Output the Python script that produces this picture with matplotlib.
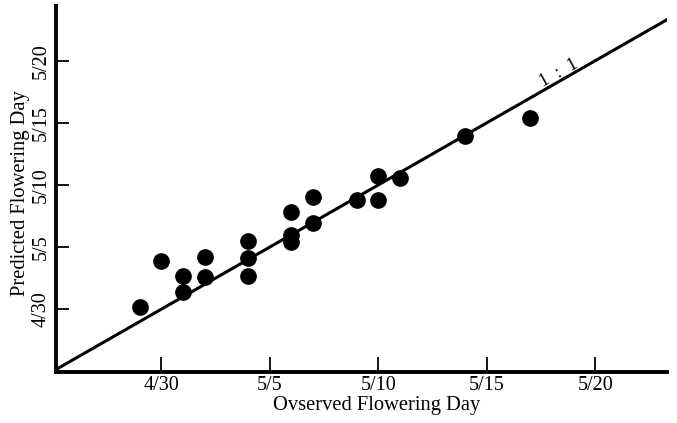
import matplotlib
matplotlib.use("Agg")
import matplotlib.pyplot as plt

# Days counted from 4/30 (0 = 4/30, 5 = 5/5, ...)
observed = [-1, 0, 1, 1, 2, 2, 4, 4, 4, 6, 6, 6, 7, 7, 9, 10, 10, 11, 14, 17]
predicted = [0.2, 3.9, 2.7, 1.4, 4.2, 2.6, 5.5, 4.1, 2.7, 7.8, 6.0, 5.4, 9.0, 6.9,
             8.8, 10.7, 8.8, 10.6, 13.9, 15.4]

tick_days = [0, 5, 10, 15, 20]
tick_labels = ["4/30", "5/5", "5/10", "5/15", "5/20"]

plt.rcParams["font.family"] = ["Liberation Serif", "DejaVu Serif"]

fig = plt.figure(figsize=(6.77, 4.23), dpi=100)
ax = fig.add_axes([0.0827, 0.1206, 0.9024, 0.8652])

ax.set_xlim(-4.85, 23.3)
ax.set_ylim(-5.05, 24.4)

# 1:1 line
ax.plot([-5.1, 24], [-5.1, 24], color="black", lw=2.2, solid_capstyle="butt", zorder=2)
ax.text(18.3, 19.0, "1  :  1", rotation=29, fontsize=13, ha="center", va="center")

ax.plot(observed, predicted, "o", color="black", markersize=11, zorder=3)

for side in ["top", "right"]:
    ax.spines[side].set_visible(False)
for side in ["left", "bottom"]:
    ax.spines[side].set_linewidth(2.8)

ax.set_xticks(tick_days)
ax.set_xticklabels(tick_labels, fontsize=14.5)
ax.set_yticks(tick_days)
ax.set_yticklabels(tick_labels, fontsize=14.5, rotation=90, va="center")
ax.tick_params(axis="x", direction="in", length=11, width=1.3, pad=3)
ax.tick_params(axis="y", direction="in", length=9, width=1.3, pad=4)

ax.set_xlabel("Ovserved Flowering Day", fontsize=14.8, va="center")
ax.set_ylabel("Predicted Flowering Day", fontsize=14.8, va="center")
ax.xaxis.set_label_coords(0.525, -0.092)
ax.yaxis.set_label_coords(-0.058, 0.49)

fig.savefig("out.png", dpi=100)
